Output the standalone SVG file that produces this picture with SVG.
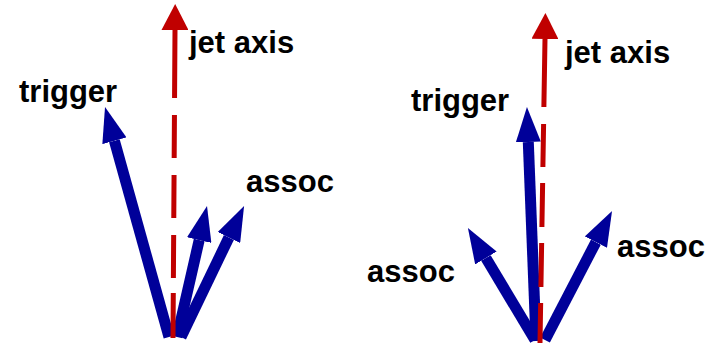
<svg xmlns="http://www.w3.org/2000/svg" width="720" height="346" viewBox="0 0 720 346">
  <style>
    .lbl { font-family: "Liberation Sans", Arial, sans-serif; font-weight: bold; font-size: 31px; fill: #000; }
    .vec { stroke: #000099; stroke-width: 11; fill: none; stroke-linecap: butt; marker-end: url(#blueHead); }
    .axis { stroke: #C00000; stroke-width: 5; fill: none; stroke-linecap: butt; marker-end: url(#redHead); }
  </style>
  <defs>
    <marker id="blueHead" viewBox="0 0 35 25" refX="0" refY="12.5" markerWidth="35" markerHeight="25" markerUnits="userSpaceOnUse" orient="auto">
      <path d="M0,0 L35,12.5 L0,25 z" fill="#000099"/>
    </marker>
    <marker id="redHead" viewBox="0 0 26 27" refX="0" refY="13.5" markerWidth="26" markerHeight="27" markerUnits="userSpaceOnUse" orient="auto">
      <path d="M0,0 L26,13.5 L0,27 z" fill="#C00000"/>
    </marker>
  </defs>

  <!-- left panel: trigger off the jet axis, two associated particles on the far side -->
  <g id="left-panel">
    <g id="left-trigger">
      <path class="vec" d="M169,337 L114.4,140.8"/>
      <text class="lbl" x="19" y="102">trigger</text>
    </g>
    <g id="left-assoc">
      <path class="vec" d="M177,337 L199.2,240.1"/>
      <path class="vec" d="M181,337 L228.9,237.5"/>
      <text class="lbl" x="246" y="192">assoc</text>
    </g>
    <g id="left-jet-axis">
      <path class="axis" d="M173,338 L175,30" stroke-dasharray="45 15 43 17 43 17 43 17 68"/>
      <text class="lbl" x="189" y="53">jet axis</text>
    </g>
  </g>

  <!-- right panel: trigger along the jet axis, associated particles on both sides -->
  <g id="right-panel">
    <g id="right-trigger">
      <path class="vec" d="M536,341 L528.3,142"/>
      <text class="lbl" x="411" y="111">trigger</text>
    </g>
    <g id="right-assoc-left">
      <path class="vec" d="M535,340 L485.9,258"/>
      <text class="lbl" x="367" y="282">assoc</text>
    </g>
    <g id="right-assoc-right">
      <path class="vec" d="M545,340 L595.9,242.1"/>
      <text class="lbl" x="617" y="257">assoc</text>
    </g>
    <g id="right-jet-axis">
      <path class="axis" d="M540,343 L545,39" stroke-dasharray="40 16 44 16 44 16 43 17 68"/>
      <text class="lbl" x="565" y="63">jet axis</text>
    </g>
  </g>
</svg>
